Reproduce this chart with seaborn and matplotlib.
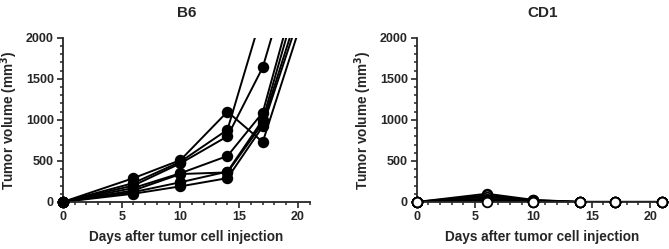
import numpy as np
import pandas as pd
import matplotlib
matplotlib.use("Agg")
import matplotlib.pyplot as plt
import seaborn as sns
from matplotlib.ticker import MultipleLocator

# days of measurement
days = [0, 6, 10, 14, 17, 21]

# B6 mice, tumor volume (mm3) per day; nan = not measured
b6_m1 = [0, 290, 510, 1100, 730, 2510]
b6_m2 = [0, 230, 490, 880, 2320, np.nan]
b6_m3 = [0, 200, 470, 800, 1640, 3585]
b6_m4 = [0, 170, 350, 560, 1090, 3170]
b6_m5 = [0, 140, 340, 360, 960, 2770]
b6_m6 = [0, 120, 240, 370, 1000, 3000]
b6_m7 = [0, 100, 190, 290, 920, 2650]

# CD1 mice
cd1_m1 = [0, 100, 25, 0, 0, 0]
cd1_m2 = [0, 80, 20, 0, 0, 0]
cd1_m3 = [0, 60, 15, 0, 0, 0]
cd1_m4 = [0, 40, 10, 0, 0, 0]
cd1_m5 = [0, 20, 5, 0, 0, 0]
cd1_m6 = [0, 10, 0, 0, 0, 0]
cd1_m7 = [0, 0, 0, 0, 0, 0]

b6 = [b6_m1, b6_m2, b6_m3, b6_m4, b6_m5, b6_m6, b6_m7]
cd1 = [cd1_m1, cd1_m2, cd1_m3, cd1_m4, cd1_m5, cd1_m6, cd1_m7]


def to_long(mice):
    rows = []
    for i, vals in enumerate(mice):
        for d, v in zip(days, vals):
            if not np.isnan(v):
                rows.append({"mouse": i, "day": d, "volume": v})
    return pd.DataFrame(rows)


df_b6 = to_long(b6)
df_cd1 = to_long(cd1)

sns.set_style("ticks")
plt.rcParams['font.family'] = ['Liberation Sans', 'DejaVu Sans']
plt.rcParams['font.weight'] = 'bold'

fig = plt.figure(figsize=(6.69, 2.49), dpi=100)
ax1 = fig.add_axes([0.094, 0.189, 0.369, 0.659])
ax2 = fig.add_axes([0.623, 0.189, 0.375, 0.659])

for ax, df, title, face, xmax in [(ax1, df_b6, "B6", "black", 21),
                                  (ax2, df_cd1, "CD1", "white", 21.5)]:
    sns.lineplot(data=df, x="day", y="volume", units="mouse", estimator=None,
                 color="black", linewidth=1.4, ax=ax, legend=False)
    shown = df[df.volume <= 2000]
    sns.scatterplot(data=shown, x="day", y="volume", color=face,
                    edgecolor="black", linewidth=1.3, s=48, ax=ax,
                    legend=False, clip_on=False, zorder=5)
    ax.set_xlim(0, xmax)
    ax.set_ylim(0, 2000)
    ax.xaxis.set_major_locator(MultipleLocator(5))
    ax.xaxis.set_minor_locator(MultipleLocator(1))
    ax.yaxis.set_major_locator(MultipleLocator(500))
    ax.yaxis.set_minor_locator(MultipleLocator(100))
    ax.tick_params(which='major', length=4, width=1.2, labelsize=9, pad=2.5)
    ax.tick_params(which='minor', length=2.2, width=1.1)
    for lab in ax.get_xticklabels() + ax.get_yticklabels():
        lab.set_fontweight('bold')
    for s in ['left', 'bottom']:
        ax.spines[s].set_linewidth(1.3)
    sns.despine(ax=ax)
    ax.set_title(title, fontsize=11, fontweight='bold', pad=15)
    ax.set_xlabel("Days after tumor cell injection", fontsize=9.8,
                  fontweight='bold', labelpad=5)
    ax.set_ylabel("Tumor volume (mm$^\\mathbf{3}$)", fontsize=9.8,
                  fontweight='bold', labelpad=4)

fig.savefig("out.png", dpi=100)
